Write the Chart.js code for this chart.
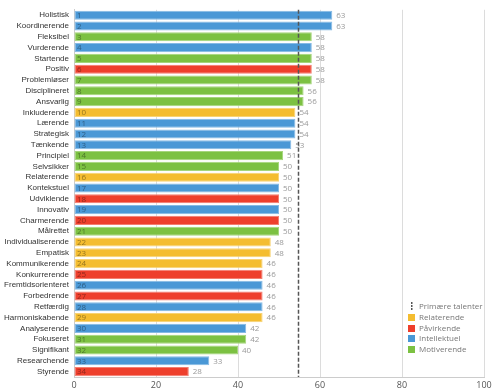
<!DOCTYPE html>
<html>
<head>
<meta charset="utf-8">
<script src="https://cdn.jsdelivr.net/npm/chart.js@4"></script>
<style>
  html, body { margin: 0; padding: 0; background: #fff; }
  #wrap { position: relative; width: 497px; height: 391px; }
  #legend {
    position: absolute; left: 408px; top: 301px;
    font: 8px 'Open Sans', sans-serif; color: #777;
  }
  #legend div { height: 10.8px; line-height: 10.8px; white-space: nowrap; }
  #legend span.sw { display: inline-block; width: 7px; height: 7px; margin-right: 4px; vertical-align: -1px; }
  #legend span.dash { display: inline-block; width: 7px; height: 8px; margin-right: 4px; vertical-align: -1px;
    background: linear-gradient(to bottom, #555 0 2px, transparent 2px 3px, #555 3px 5px, transparent 5px 6px, #555 6px 8px) no-repeat 3px 0 / 1.5px 8px; }
</style>
</head>
<body>
<div id="wrap">
  <canvas id="c" width="497" height="391"></canvas>
  <div id="legend"></div>
</div>
<script>
// ── Data ─────────────────────────────────────────────────
const TALENTS = [
  'Holistisk','Koordinerende','Fleksibel','Vurderende','Startende','Positiv','Problemløser',
  'Disciplineret','Ansvarlig','Inkluderende','Lærende','Strategisk','Tænkende','Principiel',
  'Selvsikker','Relaterende','Kontekstuel','Udviklende','Innovativ','Charmerende','Målrettet',
  'Individualiserende','Empatisk','Kommunikerende','Konkurrerende','Fremtidsorienteret',
  'Forbedrende','Retfærdig','Harmoniskabende','Analyserende','Fokuseret','Signifikant',
  'Researchende','Styrende'
];
const SCORES = [63,63,58,58,58,58,58,56,56,54,54,54,53,51,50,50,50,50,50,50,50,48,48,46,46,46,46,46,46,42,42,40,33,28];
// R = Relaterende, P = Påvirkende, I = Intellektuel, M = Motiverende
const GROUPS = ['I','I','M','I','M','P','M','M','M','R','I','I','I','M','M','R','I','P','I','P','M',
                'R','R','R','P','I','P','I','R','I','M','M','I','P'];
const PRIMARY_LINE = 54.6;
const X_TICKS = [0, 20, 40, 60, 80, 100];

const GROUP_NAMES  = { R: 'Relaterende', P: 'Påvirkende', I: 'Intellektuel', M: 'Motiverende' };
const GROUP_COLORS = { R: '#f4bd30', P: '#ee3f2c', I: '#4a98d6', M: '#7cc142' };
const GROUP_BORDER = { R: '#f8d374', P: '#f37e70', I: '#86bae4', M: '#a5d57c' };

// ── Overlay plugin: rank numbers, values, primary line ────
const overlay = {
  id: 'overlay',
  afterDatasetsDraw(chart) {
    const { ctx, chartArea, scales: { x } } = chart;
    const meta = chart.getDatasetMeta(0);
    ctx.save();
    ctx.textBaseline = 'middle';
    meta.data.forEach((bar, i) => {
      ctx.font = "8px 'Open Sans', sans-serif";
      ctx.fillStyle = 'rgba(0,0,0,0.4)';
      ctx.textAlign = 'left';
      ctx.fillText(String(i + 1), x.getPixelForValue(0) + 3, bar.y + 0.5);
      ctx.fillStyle = '#999';
      ctx.fillText(String(SCORES[i]), bar.x + 4, bar.y + 0.5);
    });
    const lx = Math.round(x.getPixelForValue(PRIMARY_LINE)) + 0.5;
    ctx.strokeStyle = '#555';
    ctx.lineWidth = 1.5;
    ctx.setLineDash([4, 2]);
    ctx.beginPath();
    ctx.moveTo(lx, chartArea.top);
    ctx.lineTo(lx, chartArea.bottom);
    ctx.stroke();
    ctx.restore();
  }
};

new Chart(document.getElementById('c'), {
  type: 'bar',
  data: {
    labels: TALENTS,
    datasets: [{
      data: SCORES,
      backgroundColor: GROUPS.map(g => GROUP_COLORS[g]),
      borderColor: GROUPS.map(g => GROUP_BORDER[g]),
      borderWidth: 1,
      borderSkipped: false,
      barPercentage: 0.84,
      categoryPercentage: 1,
    }],
  },
  options: {
    indexAxis: 'y',
    responsive: false,
    animation: false,
    layout: { padding: { top: 2, right: 13, left: 0, bottom: 0 } },
    plugins: { legend: { display: false }, tooltip: { enabled: false } },
    scales: {
      x: {
        min: 0, max: 100,
        afterBuildTicks: s => { s.ticks = X_TICKS.map(v => ({ value: v })); },
        afterFit: s => { s.height = 14; },
        grid: { color: '#dcdcdc', drawTicks: false },
        border: { color: '#ccc' },
        ticks: { color: '#555', font: { size: 9, family: "'Open Sans', sans-serif" }, padding: 3, maxRotation: 0 },
      },
      y: {
        afterFit: s => { s.width = 74; },
        grid: { display: false, drawTicks: false },
        border: { color: '#ccc' },
        ticks: { color: '#333', font: { size: 8, family: "'Liberation Sans', Arial, sans-serif" }, padding: 5, autoSkip: false },
      },
    },
  },
  plugins: [overlay],
});

// ── Legend ────────────────────────────────────────────────
const legend = document.getElementById('legend');
legend.innerHTML = '<div><span class="dash"></span>Primære talenter</div>' +
  ['R', 'P', 'I', 'M'].map(g =>
    `<div><span class="sw" style="background:${GROUP_COLORS[g]}"></span>${GROUP_NAMES[g]}</div>`
  ).join('');
</script>
</body>
</html>
